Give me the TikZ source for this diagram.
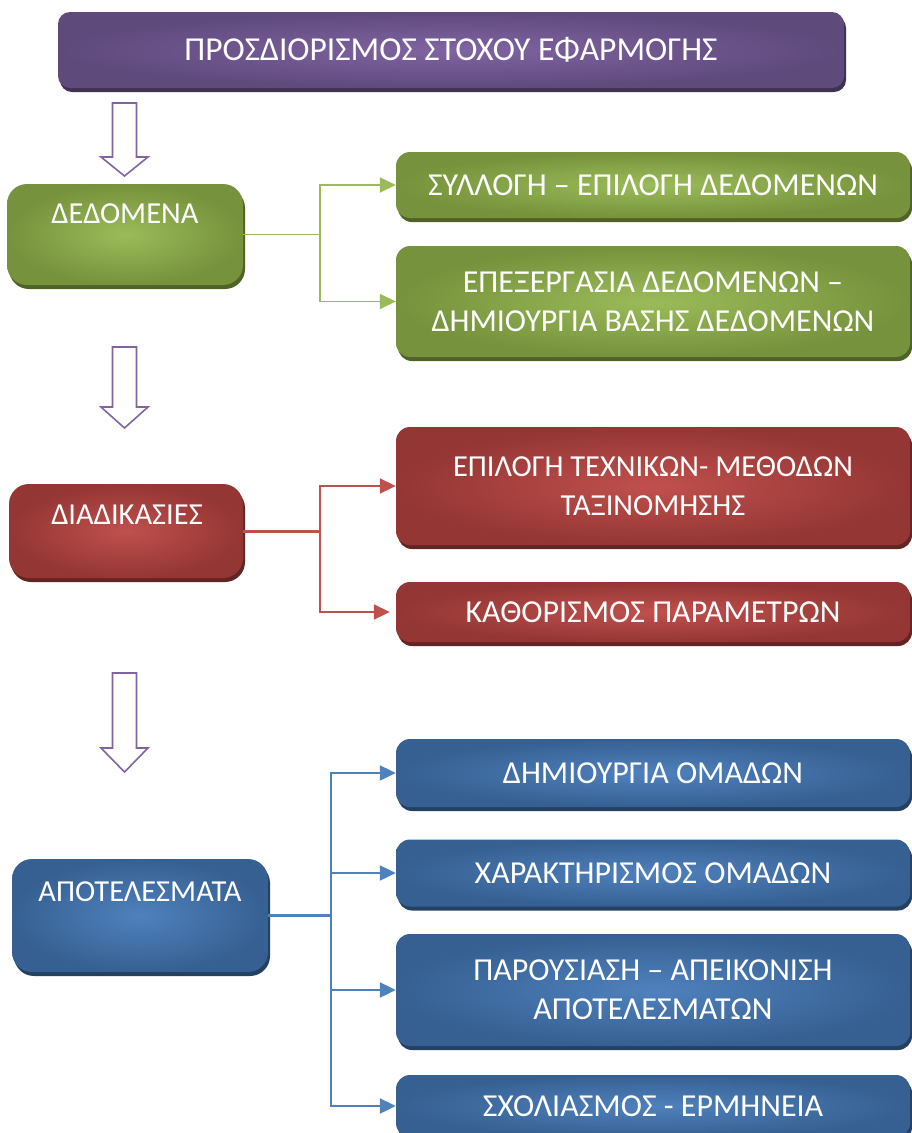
\documentclass[tikz,border=0pt]{standalone}
\usepackage{fontspec}
\setmainfont{Carlito}
\usetikzlibrary{arrows.meta,shadows}
\definecolor{purpIn}{HTML}{8064A2}
\definecolor{purpOut}{HTML}{5F4A7C}
\definecolor{purpSh}{HTML}{3F3151}
\definecolor{grnIn}{HTML}{9BBB59}
\definecolor{grnOut}{HTML}{76923C}
\definecolor{grnSh}{HTML}{4F6228}
\definecolor{redIn}{HTML}{C0504D}
\definecolor{redOut}{HTML}{943634}
\definecolor{redSh}{HTML}{632523}
\definecolor{bluIn}{HTML}{4F81BD}
\definecolor{bluOut}{HTML}{366092}
\definecolor{bluSh}{HTML}{244062}
\begin{document}
\begin{tikzpicture}[x=1pt,y=-1pt,
  basebox/.style={draw=none, inner sep=0pt, text=white, align=center,
    font=\fontsize{32}{39}\selectfont, shading=radial},
  rbox/.style={basebox, rounded corners=14pt, minimum width=514pt},
  lbox/.style={basebox, rounded corners=20pt},
  purplebox/.style={inner color=purpIn, outer color=purpOut,
    drop shadow={shadow xshift=2pt, shadow yshift=-4pt, fill=purpSh, opacity=1}},
  greenbox/.style={inner color=grnIn, outer color=grnOut,
    drop shadow={shadow xshift=2pt, shadow yshift=-4pt, fill=grnSh, opacity=1}},
  redbox/.style={inner color=redIn, outer color=redOut,
    drop shadow={shadow xshift=2pt, shadow yshift=-4pt, fill=redSh, opacity=1}},
  bluebox/.style={inner color=bluIn, outer color=bluOut,
    drop shadow={shadow xshift=2pt, shadow yshift=-4pt, fill=bluSh, opacity=1}},
  lbl/.style={inner sep=0pt, text=white, font=\fontsize{30.5}{38}\selectfont},
  tip/.style={-{Triangle[length=16pt,width=15pt]}},
  gline/.style={draw=grnIn, line width=1.6pt},
  rline/.style={draw=redIn, line width=2pt},
  bline/.style={draw=bluIn, line width=2.2pt},
  hollow/.style={draw=purpIn, fill=white, line width=1.6pt, line join=miter}
]
\useasboundingbox (0,0) rectangle (912,1133);
\clip (0,0) rectangle (912,1133);

% top box
\node[basebox, purplebox, rounded corners=12pt, minimum width=786pt, minimum height=76pt,
  font=\fontsize{33.5}{39}\selectfont] (top) at (451,50) {ΠΡΟΣΔΙΟΡΙΣΜΟΣ ΣΤΟΧΟΥ ΕΦΑΡΜΟΓΗΣ};

% hollow arrows
\newcommand{\hollowarrow}[3]{%
  \draw[hollow] (112.5,#1) -- (136.5,#1) -- (136.5,#2) -- (148,#2) -- (124.5,#3)
     -- (101,#2) -- (112.5,#2) -- cycle;}
\hollowarrow{103}{157}{176}
\hollowarrow{347}{407}{428}
\hollowarrow{673}{748}{772}

% green section
\node[lbox, greenbox, minimum width=236pt, minimum height=101pt] (g) at (125,234.5) {};
\node[lbl] (gt) at (125,214) {ΔΕΔΟΜΕΝΑ};
\node[rbox, greenbox, minimum height=66pt] (g1) at (653,185) {ΣΥΛΛΟΓΗ – ΕΠΙΛΟΓΗ ΔΕΔΟΜΕΝΩΝ};
\node[rbox, greenbox, minimum height=111pt] (g2) at (653,301.5) {ΕΠΕΞΕΡΓΑΣΙΑ ΔΕΔΟΜΕΝΩΝ –\\ΔΗΜΙΟΥΡΓΙΑ ΒΑΣΗΣ ΔΕΔΟΜΕΝΩΝ};
\coordinate (gj) at (320,234.5);
\draw[gline] (g.east) -- (gj);
\draw[gline, tip] (gj) |- (g1.west);
\draw[gline, tip] (gj) |- (g2.west);

% red section
\node[lbox, redbox, minimum width=234pt, minimum height=94pt] (r) at (126,531) {};
\node[lbl] (rt) at (127,515) {ΔΙΑΔΙΚΑΣΙΕΣ};
\node[rbox, redbox, minimum height=118pt, font=\fontsize{30.5}{39}\selectfont] (r1) at (653,486) {ΕΠΙΛΟΓΗ ΤΕΧΝΙΚΩΝ- ΜΕΘΟΔΩΝ\\ΤΑΞΙΝΟΜΗΣΗΣ};
\node[rbox, redbox, minimum height=60pt] (r2) at (653,612) {ΚΑΘΟΡΙΣΜΟΣ ΠΑΡΑΜΕΤΡΩΝ};
\coordinate (rj) at (320,531);
\draw[rline, line width=3pt] (r.east) -- (rj);
\draw[rline, tip] (rj) |- (r1.west);
\draw[rline, tip, shorten >=6pt] (rj) |- (r2.west);

% blue section
\node[lbox, bluebox, minimum width=256pt, minimum height=113pt] (b) at (140,915.5) {};
\node[lbl] (bt) at (140,892) {ΑΠΟΤΕΛΕΣΜΑΤΑ};
\node[rbox, bluebox, minimum height=68pt] (b1) at (653,773) {ΔΗΜΙΟΥΡΓΙΑ ΟΜΑΔΩΝ};
\node[rbox, bluebox, minimum height=67pt] (b2) at (653,873) {ΧΑΡΑΚΤΗΡΙΣΜΟΣ ΟΜΑΔΩΝ};
\node[rbox, bluebox, minimum height=112pt] (b3) at (653,990) {ΠΑΡΟΥΣΙΑΣΗ – ΑΠΕΙΚΟΝΙΣΗ\\ΑΠΟΤΕΛΕΣΜΑΤΩΝ};
\node[rbox, bluebox, minimum height=62pt] (b4) at (653,1106) {ΣΧΟΛΙΑΣΜΟΣ - ΕΡΜΗΝΕΙΑ};
\coordinate (bj) at (331,915.5);
\draw[bline] (b.east) -- (bj);
\draw[bline, tip] (bj) |- (b1.west);
\draw[bline, tip] (bj) |- (b2.west);
\draw[bline, tip] (bj) |- (b3.west);
\draw[bline, tip] (bj) |- (b4.west);
\end{tikzpicture}
\end{document}
